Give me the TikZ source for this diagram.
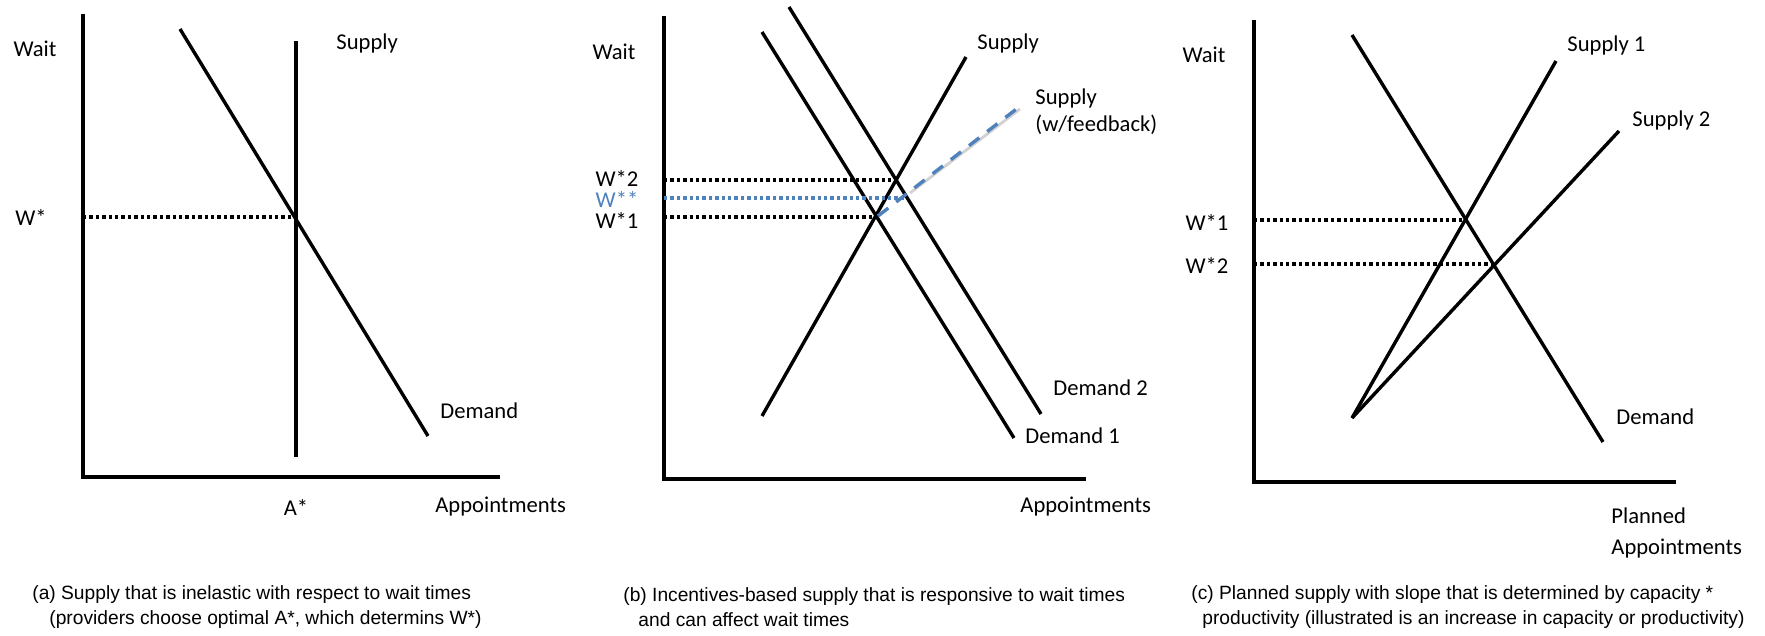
\documentclass[tikz,border=0pt]{standalone}
\usepackage{fontspec}
\setmainfont{Carlito}
\newfontfamily\capfont{Liberation Sans}
\usetikzlibrary{positioning}
\definecolor{fbblue}{RGB}{79,129,189}

\begin{document}
\begin{tikzpicture}[
  x=0.5pt, y=-0.5pt,
  font=\fontsize{11.3}{13.6}\selectfont,
  node distance=4pt,
  axis/.style={line width=2pt},
  curve/.style={line width=1.7pt},
  level/.style={line width=1.8pt, dash pattern=on 1.7pt off 1.5pt},
  fblevel/.style={level, fbblue},
  fbsupply/.style={line width=1.7pt, fbblue, dash pattern=on 6.5pt off 5pt},
  fbshadow/.style={line width=1.4pt, black!18},
  lbl/.style={inner sep=0pt, anchor=west},
  mid/.style={inner sep=0pt},
  captxt/.style={inner sep=0pt, anchor=west, align=left,
    font=\capfont\fontsize{9.6}{12.5}\selectfont}
]
\useasboundingbox (0,0) rectangle (1765,636);

% (a)
\draw[axis] (83,14) |- (500,477);
\draw[curve] (180,29) -- (428,436);
\draw[curve] (296,41) -- (296,457);
\draw[level] (83,217) -- (296,217);
\node[mid] (aWait) at (35,49) {Wait};
\node[mid] (aW) at (31,217) {W*};
\node[lbl] (aSup) at (336,43) {Supply};
\node[lbl] (aDem) at (440,411) {Demand};
\node[mid] (aA) at (296,507) {A*};
\node[lbl] (aApp) at (435,507) {Appointments};
\node[captxt] (capA) at (32,607.5) {(a) Supply that is inelastic with respect to wait times\\
  \hspace*{8.5pt}(providers choose optimal A*, which determins W*)};

% (b)
\draw[axis] (664,16) |- (1086,479);
\draw[curve] (762,32) -- (1014,438);
\draw[curve] (789,7) -- (1041,414);
\draw[curve] (762,416) -- (966,57);
\draw[fbshadow] (910,193) -- (1020,109);
\draw[fbsupply] (878,216) -- (1019,107);
\draw[level] (664,180) -- (896,180);
\draw[fblevel] (664,198) -- (906,198);
\draw[level] (664,217) -- (877,217);
\node[mid] (bWait) at (614,52) {Wait};
\node[mid] (bW2) at (617,178) {W*2};
\node[mid, text=fbblue] (bWW) at (617,199) {W**};
\node[mid] (bW1) at (617,220) {W*1};
\node[lbl] (bSup) at (977,43) {Supply};
\node[lbl, align=left, font=\fontsize{11.3}{13.5}\selectfont] (bFb) at (1035,111.5) {Supply\\(w/feedback)};
\node[lbl] (bDem2) at (1053,388) {Demand 2};
\node[lbl] (bDem1) at (1025,436) {Demand 1};
\node[lbl] (bApp) at (1020,507) {Appointments};
\node[captxt] (capB) at (623,607.5) {(b) Incentives-based supply that is responsive to wait times\\
  \hspace*{7.5pt}and can affect wait times};

% (c)
\draw[axis] (1254,20) |- (1676,482);
\draw[curve] (1352,35) -- (1603,442);
\draw[curve] (1352,418) -- (1556,61);
\draw[curve] (1352,418) -- (1619,131);
\draw[level] (1254,220) -- (1466,220);
\draw[level] (1254,264) -- (1494,264);
\node[mid] (cWait) at (1204,55) {Wait};
\node[mid] (cW1) at (1207,222) {W*1};
\node[mid] (cW2) at (1207,265) {W*2};
\node[lbl] (cSup1) at (1567,45) {Supply 1};
\node[lbl] (cSup2) at (1632,120) {Supply 2};
\node[lbl] (cDem) at (1616,417) {Demand};
\node[lbl, align=left, font=\fontsize{11.3}{15.5}\selectfont] (cApp) at (1611,533) {Planned\\Appointments};
\node[captxt] (capC) at (1191,607.5) {(c) Planned supply with slope that is determined by capacity *\\
  \hspace*{5.5pt}productivity (illustrated is an increase in capacity or productivity)};
\end{tikzpicture}
\end{document}
